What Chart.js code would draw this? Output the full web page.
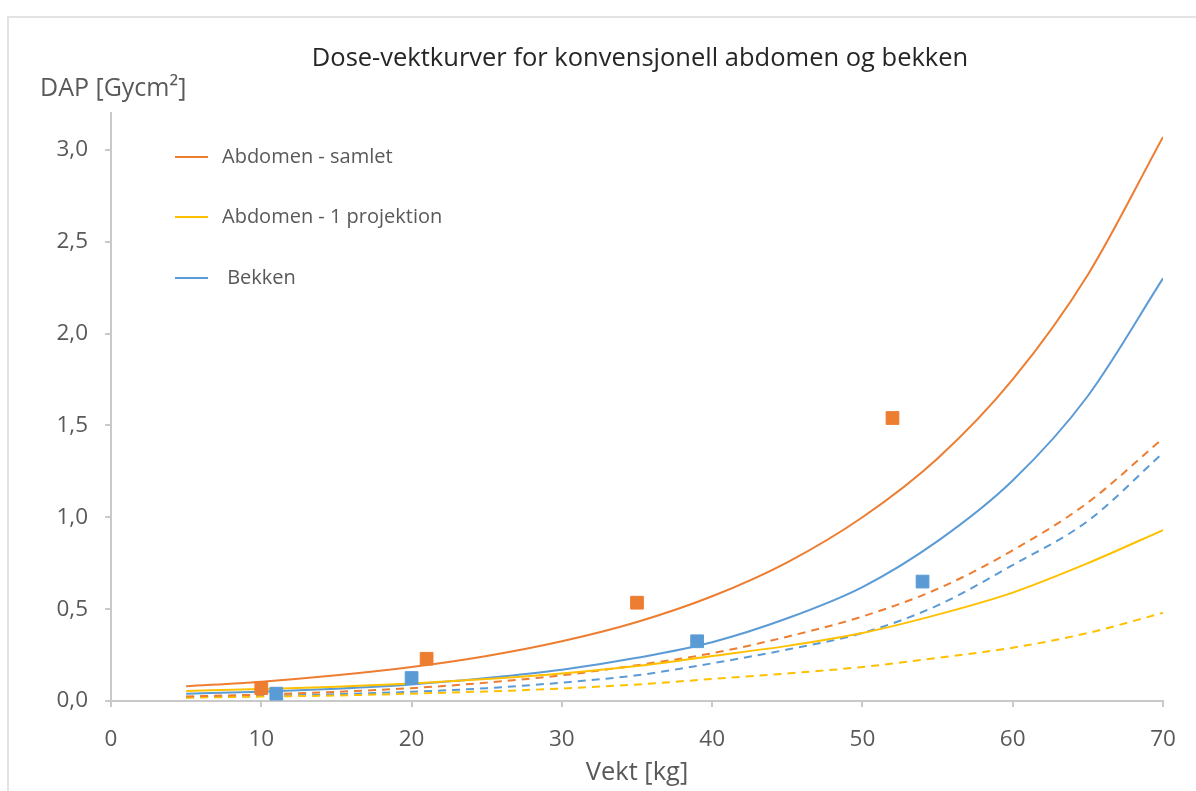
<!DOCTYPE html>
<html>
<head>
<meta charset="utf-8">
<script src="https://cdn.jsdelivr.net/npm/chart.js@4"></script>
<style>
  body { margin: 0; background: #fff; }
  #frame { position: absolute; left: 7px; top: 16px; width: 1300px; height: 900px;
           border-left: 2px solid #e3e3e3; border-top: 2px solid #e3e3e3; }
  #wrap { position: absolute; left: 0; top: 0; width: 1196px; height: 791px; }
</style>
</head>
<body>
<div id="frame"></div>
<div id="wrap"><canvas id="doseChart" width="1196" height="791"></canvas></div>
<script>
// vekt i kg for kurvene
const weightKg = [5, 10, 15, 20, 25, 30, 35, 40, 45, 50, 55, 60, 65, 70];

// heltrukne kurver
const abdomenSamlet = [0.08, 0.105, 0.14, 0.185, 0.245, 0.325, 0.43, 0.57, 0.755, 1.0, 1.32, 1.75, 2.32, 3.07];
const abdomenEnProj = [0.055, 0.065, 0.077, 0.095, 0.12, 0.15, 0.19, 0.245, 0.30, 0.37, 0.47, 0.59, 0.75, 0.93];
const bekken = [0.04, 0.05, 0.067, 0.09, 0.125, 0.17, 0.235, 0.32, 0.45, 0.62, 0.87, 1.20, 1.66, 2.30];

// stiplede kurver
const abdomenSamletStiplet = [0.025, 0.035, 0.05, 0.07, 0.10, 0.14, 0.195, 0.26, 0.35, 0.46, 0.61, 0.82, 1.08, 1.43];
const abdomenEnProjStiplet = [0.018, 0.024, 0.03, 0.04, 0.052, 0.068, 0.09, 0.12, 0.15, 0.185, 0.235, 0.29, 0.37, 0.48];
const bekkenStiplet = [0.02, 0.027, 0.037, 0.05, 0.07, 0.10, 0.14, 0.205, 0.28, 0.37, 0.52, 0.74, 0.98, 1.35];

// målte punkter
const abdomenMaltVekt = [10, 21, 35, 52];
const abdomenMaltDAP = [0.07, 0.23, 0.535, 1.54];
const bekkenMaltVekt = [11, 20, 39, 54];
const bekkenMaltDAP = [0.04, 0.125, 0.325, 0.65];

const xTicks = [0, 10, 20, 30, 40, 50, 60, 70];
const yTicks = [0, 0.5, 1.0, 1.5, 2.0, 2.5, 3.0];

const legendLabels = ["Abdomen - samlet", "Abdomen - 1 projektion", " Bekken"];
const chartTitle = "Dose-vektkurver for konvensjonell abdomen og bekken";
const yTitle = "DAP [Gycm\u00B2]";
const xTitle = "Vekt [kg]";

const ORANGE = "#ED7D31";
const YELLOW = "#FFC000";
const BLUE = "#5B9BD5";
const FONT = "'Open Sans', sans-serif";

function toPoints(xs, ys) {
    return xs.map((x, i) => ({x: x, y: ys[i]}));
}

function curve(label, data, color, dashed) {
    return {
        type: "line",
        label: label,
        data: toPoints(weightKg, data),
        borderColor: color,
        borderWidth: 2,
        borderDash: dashed ? [8, 6] : [],
        pointRadius: 0,
        cubicInterpolationMode: "monotone",
        fill: false,
        order: 2
    };
}

function markers(xs, ys, color) {
    return {
        type: "scatter",
        data: toPoints(xs, ys),
        backgroundColor: color,
        borderColor: color,
        pointStyle: "rect",
        pointRadius: 9,
        order: 1
    };
}

// tittel, y-tittel og forklaring
const labelsPlugin = {
    id: "labels",
    afterDraw(chart) {
        const ctx = chart.ctx;
        const area = chart.chartArea;
        ctx.save();
        ctx.textBaseline = "middle";

        ctx.fillStyle = "#262626";
        ctx.font = "25.5px " + FONT;
        ctx.textAlign = "center";
        ctx.fillText(chartTitle, (area.left + area.right) / 2 + 3, 59);

        ctx.fillStyle = "#595959";
        ctx.font = "25px " + FONT;
        ctx.textAlign = "left";
        ctx.fillText(yTitle, 40, 89);

        const colors = [ORANGE, YELLOW, BLUE];
        const rows = [157, 217, 278];
        legendLabels.forEach((txt, i) => {
            ctx.strokeStyle = colors[i];
            ctx.lineWidth = 2;
            ctx.beginPath();
            ctx.moveTo(175, rows[i]);
            ctx.lineTo(208, rows[i]);
            ctx.stroke();
            ctx.fillStyle = "#595959";
            ctx.font = "20px " + FONT;
            ctx.fillText(txt, 222, rows[i]);
        });
        ctx.restore();
    }
};

new Chart(document.getElementById("doseChart"), {
    data: {
        datasets: [
            markers(abdomenMaltVekt, abdomenMaltDAP, ORANGE),
            markers(bekkenMaltVekt, bekkenMaltDAP, BLUE),
            curve(legendLabels[0], abdomenSamlet, ORANGE, false),
            curve(legendLabels[1], abdomenEnProj, YELLOW, false),
            curve(legendLabels[2], bekken, BLUE, false),
            curve(legendLabels[0], abdomenSamletStiplet, ORANGE, true),
            curve(legendLabels[1], abdomenEnProjStiplet, YELLOW, true),
            curve(legendLabels[2], bekkenStiplet, BLUE, true)
        ]
    },
    options: {
        responsive: false,
        animation: false,
        layout: { padding: { top: 113, left: 0, right: 33, bottom: 0 } },
        plugins: {
            legend: { display: false },
            tooltip: { enabled: false },
            title: { display: false }
        },
        scales: {
            x: {
                type: "linear",
                min: 0,
                max: 70,
                afterBuildTicks: (scale) => { scale.ticks = xTicks.map(v => ({value: v})); },
                afterFit: (scale) => { scale.height = 90; },
                grid: { drawOnChartArea: false, tickLength: 6, color: "#c9c9c9", lineWidth: 2 },
                border: { color: "#c9c9c9", width: 2 },
                ticks: { color: "#595959", font: { size: 22.5, family: FONT }, padding: 19 },
                title: { display: true, text: xTitle, color: "#595959", font: { size: 25.5, family: FONT }, padding: { bottom: 3 } }
            },
            y: {
                type: "linear",
                min: 0,
                max: 3.2,
                afterBuildTicks: (scale) => { scale.ticks = yTicks.map(v => ({value: v})); },
                afterFit: (scale) => { scale.width = 111; },
                grid: { drawOnChartArea: false, tickLength: 6, color: "#c9c9c9", lineWidth: 2 },
                border: { color: "#c9c9c9", width: 2 },
                ticks: {
                    color: "#595959",
                    font: { size: 22.5, family: FONT },
                    padding: 17,
                    callback: (v) => v.toFixed(1).replace(".", ",")
                }
            }
        }
    },
    plugins: [labelsPlugin]
});
</script>
</body>
</html>
